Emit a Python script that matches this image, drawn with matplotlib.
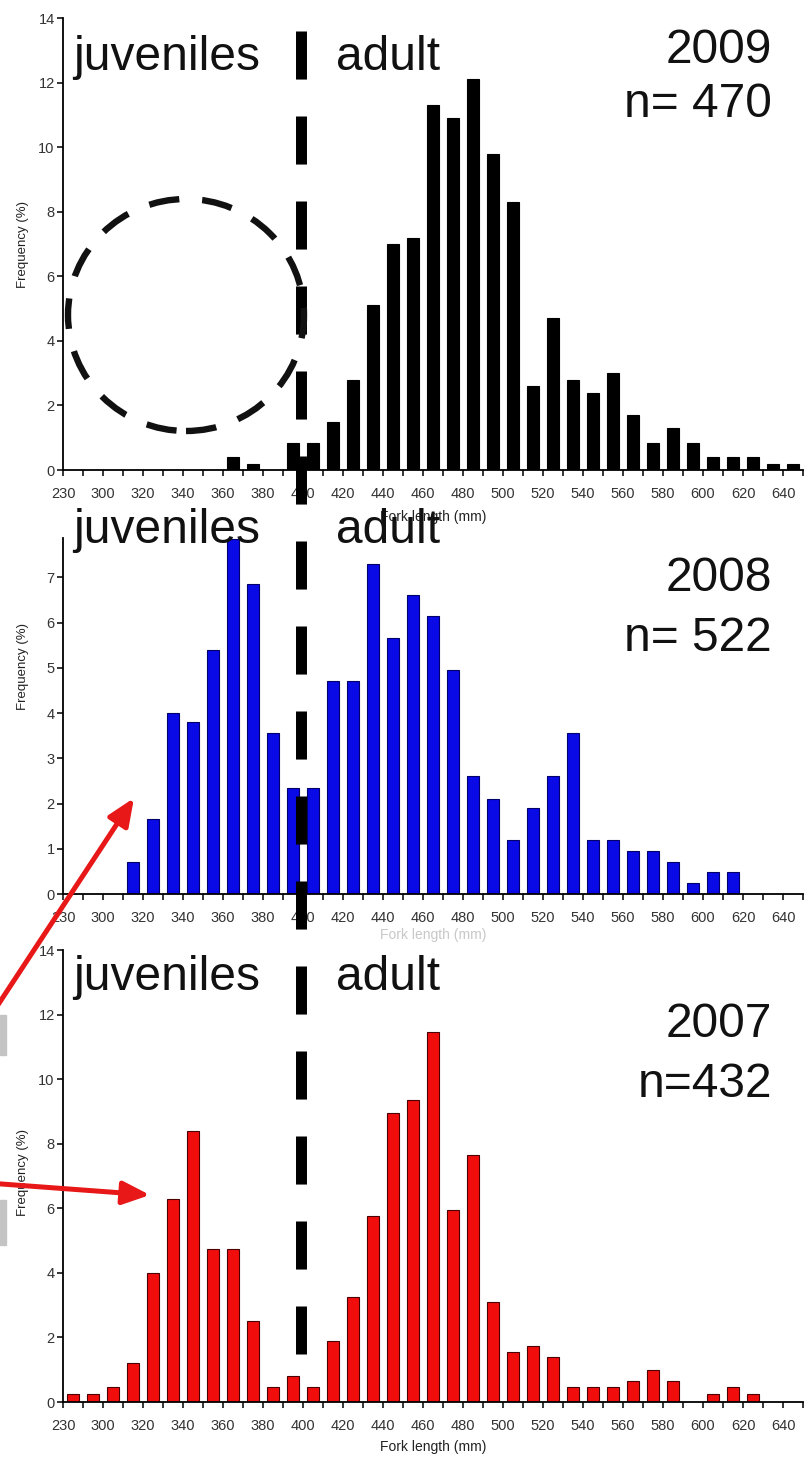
import matplotlib
matplotlib.use("Agg")
import matplotlib.pyplot as plt
from matplotlib.lines import Line2D
from matplotlib.patches import Ellipse, FancyArrowPatch, Rectangle

plt.rcParams["font.family"] = ["Liberation Sans", "DejaVu Sans"]
plt.rcParams["lines.scale_dashes"] = False

# ---- data (fork length bin centre in mm, frequency in %) ----
len_2009 = [365, 375, 395, 405, 415, 425, 435, 445, 455, 465, 475, 485, 495, 505,
            515, 525, 535, 545, 555, 565, 575, 585, 595, 605, 615, 625, 635, 645]
freq_2009 = [0.4, 0.2, 0.85, 0.85, 1.5, 2.8, 5.1, 7.0, 7.2, 11.3, 10.9, 12.1, 9.8, 8.3,
             2.6, 4.7, 2.8, 2.4, 3.0, 1.7, 0.85, 1.3, 0.85, 0.4, 0.4, 0.4, 0.2, 0.2]

len_2008 = [315, 325, 335, 345, 355, 365, 375, 385, 395, 405, 415, 425, 435, 445, 455, 465,
            475, 485, 495, 505, 515, 525, 535, 545, 555, 565, 575, 585, 595, 605, 615]
freq_2008 = [0.7, 1.65, 4.0, 3.8, 5.4, 7.85, 6.85, 3.55, 2.35, 2.35, 4.7, 4.7, 7.3, 5.65, 6.6, 6.15,
             4.95, 2.6, 2.1, 1.2, 1.9, 2.6, 3.55, 1.2, 1.2, 0.95, 0.95, 0.7, 0.25, 0.48, 0.48]

len_2007 = [285, 295, 305, 315, 325, 335, 345, 355, 365, 375, 385, 395, 405, 415, 425, 435, 445,
            455, 465, 475, 485, 495, 505, 515, 525, 535, 545, 555, 565, 575, 585, 605, 615, 625]
freq_2007 = [0.25, 0.25, 0.45, 1.2, 4.0, 6.3, 8.4, 4.75, 4.75, 2.5, 0.45, 0.8, 0.45, 1.9, 3.25, 5.75, 8.95,
             9.35, 11.45, 5.95, 7.65, 3.1, 1.55, 1.75, 1.4, 0.45, 0.45, 0.45, 0.65, 1.0, 0.65, 0.25, 0.45, 0.25]

xtick_pos = [280, 300, 320, 340, 360, 380, 400, 420, 440, 460, 480, 500, 520, 540, 560, 580, 600, 620, 640]
xtick_labels = ["230", "300", "320", "340", "360", "380", "400", "420", "440", "460",
                "480", "500", "520", "540", "560", "580", "600", "620", "640"]
xminor_pos = [290, 310, 330, 350, 370, 390, 410, 430, 450, 470, 490, 510, 530, 550, 570, 590, 610, 630, 650]

W, H = 807, 1458
fig = plt.figure(figsize=(W / 100, H / 100), dpi=100)


def fx(x):
    return x / W


def fy(y):
    return 1 - y / H


AX_L, AX_R = 63, 803

panels = [
    dict(x=len_2009, y=freq_2009, color="black", edge="black", top=18, bot=470, ymax=14,
         yticks=[0, 2, 4, 6, 8, 10, 12, 14], year="2009", n="n= 470",
         base_j=70, base_year=63, base_n=117, xlab_y=517, xlab_c="#222222", ylab_y=244),
    dict(x=len_2008, y=freq_2008, color="#0a0ae6", edge="#00006a", top=538, bot=894, ymax=7.87,
         yticks=[0, 1, 2, 3, 4, 5, 6, 7], year="2008", n="n= 522",
         base_j=543, base_year=591, base_n=651, xlab_y=935, xlab_c="#c8c8c8", ylab_y=667),
    dict(x=len_2007, y=freq_2007, color="#f20d0d", edge="#4a0000", top=950, bot=1402, ymax=14,
         yticks=[0, 2, 4, 6, 8, 10, 12, 14], year="2007", n="n=432",
         base_j=990, base_year=1037, base_n=1097, xlab_y=1447, xlab_c="#222222", ylab_y=1172),
]

for p in panels:
    ax = fig.add_axes([fx(AX_L), fy(p["bot"]), (AX_R - AX_L) / W, (p["bot"] - p["top"]) / H])
    ax.patch.set_alpha(0)
    ax.bar(p["x"], p["y"], width=5.8, color=p["color"], edgecolor=p["edge"], linewidth=0.8)
    ax.set_xlim(280, 650)
    ax.set_ylim(0, p["ymax"])
    ax.set_xticks(xtick_pos)
    ax.set_xticklabels(xtick_labels)
    ax.set_xticks(xminor_pos, minor=True)
    ax.set_yticks(p["yticks"])
    for s in ["top", "right"]:
        ax.spines[s].set_visible(False)
    for s in ["left", "bottom"]:
        ax.spines[s].set_linewidth(1.3)
    ax.tick_params(axis="x", which="both", length=4, width=1.1, direction="out")
    ax.tick_params(axis="x", which="major", pad=8, labelsize=10.5, labelcolor="#333333")
    ax.tick_params(axis="y", length=4, width=1.1, pad=2, labelsize=10.5, labelcolor="#333333")
    ax.set_ylabel("Frequency (%)", fontsize=9.5, color="#222222")
    # label anchor is its right side once rotated, so put it a bit right of the wanted centre
    ax.yaxis.set_label_coords((29 - AX_L) / (AX_R - AX_L),
                              (p["bot"] - p["ylab_y"]) / (p["bot"] - p["top"]))

    fig.text(fx(433), fy(p["xlab_y"]), "Fork length (mm)", fontsize=10, color=p["xlab_c"],
             ha="center", va="center")
    fig.text(fx(73), fy(p["base_j"]), "juveniles", fontsize=34.5, color="#111111",
             ha="left", va="baseline", zorder=6)
    fig.text(fx(336), fy(p["base_j"]), "adult", fontsize=34.5, color="#111111",
             ha="left", va="baseline", zorder=6)
    fig.text(fx(772), fy(p["base_year"]), p["year"], fontsize=34.5, color="#111111",
             ha="right", va="baseline")
    fig.text(fx(772), fy(p["base_n"]), p["n"], fontsize=34.5, color="#111111",
             ha="right", va="baseline")

# thick dashed divider at 400 mm, running through all three panels
fig.add_artist(Line2D([fx(300.5), fx(300.5)], [fy(31), fy(1354)], transform=fig.transFigure,
                      color="black", linewidth=7.9, linestyle=(0, (34.6, 26.6)),
                      dash_capstyle="butt", zorder=10))

# dashed circle over the empty juvenile range of 2009
fig.add_artist(Ellipse((fx(186), fy(315)), 236 / W, 232 / H, transform=fig.transFigure,
                       fill=False, edgecolor="#111111", linewidth=4.6,
                       linestyle=(0, (22, 16.5)), zorder=10))

# red arrows
for (x0, y0), (x1, y1) in [((-12, 1020), (134, 798)), ((-12, 1183), (150, 1195))]:
    fig.add_artist(FancyArrowPatch((fx(x0), fy(y0)), (fx(x1), fy(y1)), transform=fig.transFigure,
                                   arrowstyle="-|>,head_length=0.75,head_width=0.32",
                                   mutation_scale=22, color="#e81818", linewidth=3.6,
                                   shrinkA=0, shrinkB=0, zorder=11))

# grey slivers at the left edge
for y0, y1 in [(1015, 1055), (1200, 1245)]:
    fig.add_artist(Rectangle((0, fy(y1)), fx(6), (y1 - y0) / H, transform=fig.transFigure,
                             color="#c4c4c4", zorder=9))

fig.savefig("out.png", dpi=100)
